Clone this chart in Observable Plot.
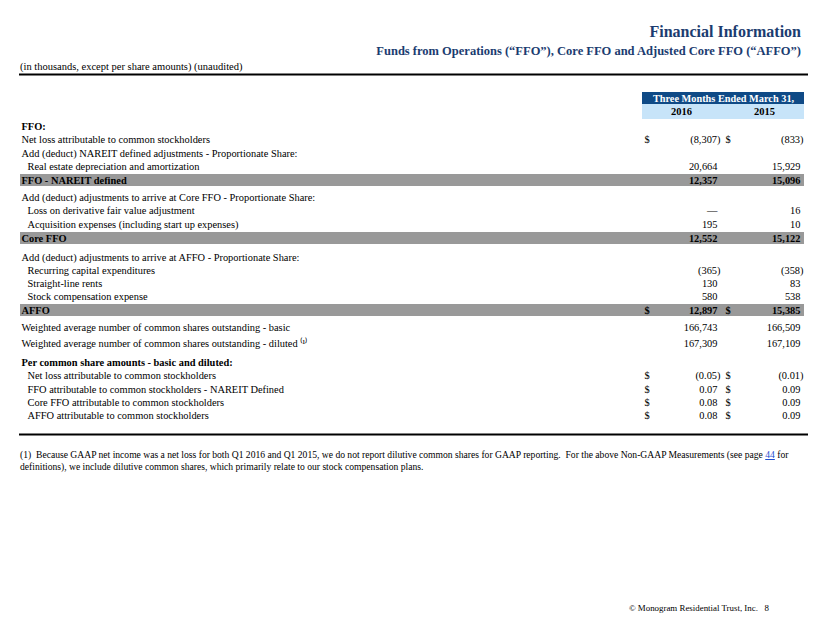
<!DOCTYPE html>
<html><head><meta charset="utf-8">
<script src="https://cdn.jsdelivr.net/npm/d3@7"></script>
<script src="https://cdn.jsdelivr.net/npm/@observablehq/plot@0.6"></script>
<style>
body{margin:0;background:#fff;}
#page{position:relative;width:822px;height:635px;font-family:"Liberation Serif","Times New Roman",serif;overflow:hidden;color:#000}
#title{position:absolute;right:21px;top:23px;font-size:16px;font-weight:bold;color:#1b3c70;white-space:nowrap}
#subtitle{position:absolute;right:21px;top:44px;font-size:12.5px;font-weight:bold;color:#1b3c70;white-space:nowrap}
#units{position:absolute;left:20px;top:61px;font-size:10.5px;white-space:nowrap}
#chart{position:absolute;left:0;top:70px}
.note{position:absolute;left:20px;font-size:9.6px;white-space:nowrap}
#note1{top:449px}
#note2{top:461px}
.note a{color:#1f4fd0;text-decoration:underline}
#footer{position:absolute;right:53px;top:603px;font-size:8.9px;white-space:nowrap}
</style></head>
<body>
<div id="page">
  <div id="title"></div>
  <div id="subtitle"></div>
  <div id="units"></div>
  <div id="chart"></div>
  <div id="note1" class="note"></div>
  <div id="note2" class="note"></div>
  <div id="footer"></div>
</div>
<script>
// ---------- data ----------
const titleText = "Financial Information";
const subtitleText = "Funds from Operations (“FFO”), Core FFO and Adjusted Core FFO (“AFFO”)";
const unitsText = "(in thousands, except per share amounts) (unaudited)";
const periodHeader = "Three Months Ended March 31,";
const years = ["2016", "2015"];

const rowLabels = [
  "FFO:",
  "Net loss attributable to common stockholders",
  "Add (deduct) NAREIT defined adjustments - Proportionate Share:",
  "Real estate depreciation and amortization",
  "FFO - NAREIT defined",
  "Add (deduct) adjustments to arrive at Core FFO - Proportionate Share:",
  "Loss on derivative fair value adjustment",
  "Acquisition expenses (including start up expenses)",
  "Core FFO",
  "Add (deduct) adjustments to arrive at AFFO - Proportionate Share:",
  "Recurring capital expenditures",
  "Straight-line rents",
  "Stock compensation expense",
  "AFFO",
  "Weighted average number of common shares outstanding - basic",
  "Weighted average number of common shares outstanding - diluted ⁽¹⁾",
  "Per common share amounts - basic and diluted:",
  "Net loss attributable to common stockholders",
  "FFO attributable to common stockholders - NAREIT Defined",
  "Core FFO attributable to common stockholders",
  "AFFO attributable to common stockholders"
];
// head = bold heading, item = plain, sub = indented, total = shaded bold
const rowKinds = ["head","item","item","sub","total","item","sub","sub","total","item","sub","sub","sub","total","item","item","head","sub","sub","sub","sub"];
const values2016 = [null, -8307, null, 20664, 12357, null, 0, 195, 12552, null, -365, 130, 580, 12897, 166743, 167309, null, -0.05, 0.07, 0.08, 0.08];
const values2015 = [null, -833, null, 15929, 15096, null, 16, 10, 15122, null, -358, 83, 538, 15385, 166509, 167109, null, -0.01, 0.09, 0.09, 0.09];
const dollarSigns = [0,1,0,0,0,0,0,0,0,0,0,0,0,1,0,0,0,1,1,1,1];
const perShare    = [0,0,0,0,0,0,0,0,0,0,0,0,0,0,0,0,0,1,1,1,1];

const footnoteLine1 = "(1)&nbsp; Because GAAP net income was a net loss for both Q1 2016 and Q1 2015, we do not report dilutive common shares for GAAP reporting.&nbsp; For the above Non-GAAP Measurements (see page <a>44</a> for";
const footnoteLine2 = "definitions), we include dilutive common shares, which primarily relate to our stock compensation plans.";
const footerText = "© Monogram Residential Trust, Inc.\u00a0\u00a0\u00a08";

// ---------- layout ----------
const L = {
  width: 822, top: 70, height: 370,
  firstRowY: 126.5,
  rowGaps: [0,13,13.5,13.5,13.5,17,13.5,13.5,14,19,13,13,13,14,17,16,19,13.5,13.5,13,13.5],
  labelX: 21, indentX: 27,
  dollarX: [644, 725], valueRight: [717, 800], parenHang: 3,
  barX: [20, 804], barHalf: 6,
  headX: [642, 804], headY: [92, 104, 119], yearX: [681, 764],
  ruleX: [19, 808], ruleY: [74, 434],
  font: 10.4
};

document.getElementById("title").textContent = titleText;
document.getElementById("subtitle").textContent = subtitleText;
document.getElementById("units").textContent = unitsText;
document.getElementById("note1").innerHTML = footnoteLine1;
document.getElementById("note2").textContent = footnoteLine2;
document.getElementById("footer").textContent = footerText;

let acc = L.firstRowY;
const rows = rowLabels.map((label, i) => {
  acc += L.rowGaps[i];
  return {i, label, kind: rowKinds[i], y: acc, dollar: dollarSigns[i], per: perShare[i]};
});
const fmtInt = d3.format(",");
const fmtPer = d3.format(".2f");
function fmt(v, per) {
  if (v === 0) return "—";
  const f = per ? fmtPer : fmtInt;
  return v < 0 ? "(" + f(-v) + ")" : f(v);
}
const cells = [];
rows.forEach(r => {
  [values2016, values2015].forEach((vals, c) => {
    const v = vals[r.i];
    if (v !== null) cells.push({c, v, y: r.y, text: fmt(v, r.per), bold: r.kind === "total"});
  });
});
const dollars = rows.filter(r => r.dollar).flatMap(r => [0,1].map(c => ({c, y: r.y, bold: r.kind === "total"})));
const totals = rows.filter(r => r.kind === "total");
const header = [
  {x1: L.headX[0], x2: L.headX[1], y1: L.headY[0], y2: L.headY[1], fill: "#0f4a86"},
  {x1: L.headX[0], x2: L.headX[1], y1: L.headY[1], y2: L.headY[2], fill: "#c7e4f9"}
];
const yearCells = years.map((t, c) => ({t, x: L.yearX[c], y: (L.headY[1] + L.headY[2]) / 2}));

const common = {fontFamily: "Liberation Serif", fontSize: L.font, lineAnchor: "middle"};
const valX = d => L.valueRight[d.c] + (d.v < 0 ? L.parenHang : 0);

const chart = Plot.plot({
  width: L.width, height: L.height,
  marginTop: 0, marginBottom: 0, marginLeft: 0, marginRight: 0,
  x: {type: "linear", domain: [0, L.width], range: [0, L.width], axis: null},
  y: {type: "linear", domain: [L.top, L.top + L.height], range: [0, L.height], axis: null},
  style: {background: "transparent", overflow: "visible"},
  marks: [
    Plot.rect(header, {x1: "x1", x2: "x2", y1: "y1", y2: "y2", fill: d => d.fill}),
    Plot.text([periodHeader], {x: (L.headX[0] + L.headX[1]) / 2, y: (L.headY[0] + L.headY[1]) / 2, text: d => d, fill: "white", fontWeight: "bold", ...common, fontSize: 10.3}),
    Plot.text(yearCells, {x: "x", y: "y", text: "t", fontWeight: "bold", ...common, fontSize: 10.5}),
    Plot.rect(totals, {x1: L.barX[0], x2: L.barX[1], y1: d => d.y - L.barHalf, y2: d => d.y + L.barHalf, fill: "#999999"}),
    Plot.ruleY(L.ruleY, {x1: L.ruleX[0], x2: L.ruleX[1], stroke: "#000", strokeWidth: 2}),
    Plot.text(rows.filter(r => r.kind === "item"), {x: L.labelX, y: "y", text: "label", textAnchor: "start", ...common}),
    Plot.text(rows.filter(r => r.kind === "sub"), {x: L.indentX, y: "y", text: "label", textAnchor: "start", ...common}),
    Plot.text(rows.filter(r => r.kind === "head" || r.kind === "total"), {x: L.labelX, y: "y", text: "label", textAnchor: "start", fontWeight: "bold", ...common}),
    Plot.text(cells.filter(d => !d.bold), {x: valX, y: "y", text: "text", textAnchor: "end", ...common}),
    Plot.text(cells.filter(d => d.bold), {x: valX, y: "y", text: "text", textAnchor: "end", fontWeight: "bold", ...common}),
    Plot.text(dollars.filter(d => !d.bold), {x: d => L.dollarX[d.c], y: "y", text: () => "$", textAnchor: "start", ...common}),
    Plot.text(dollars.filter(d => d.bold), {x: d => L.dollarX[d.c], y: "y", text: () => "$", textAnchor: "start", fontWeight: "bold", ...common})
  ]
});
document.getElementById("chart").appendChild(chart);
</script>
</body></html>
